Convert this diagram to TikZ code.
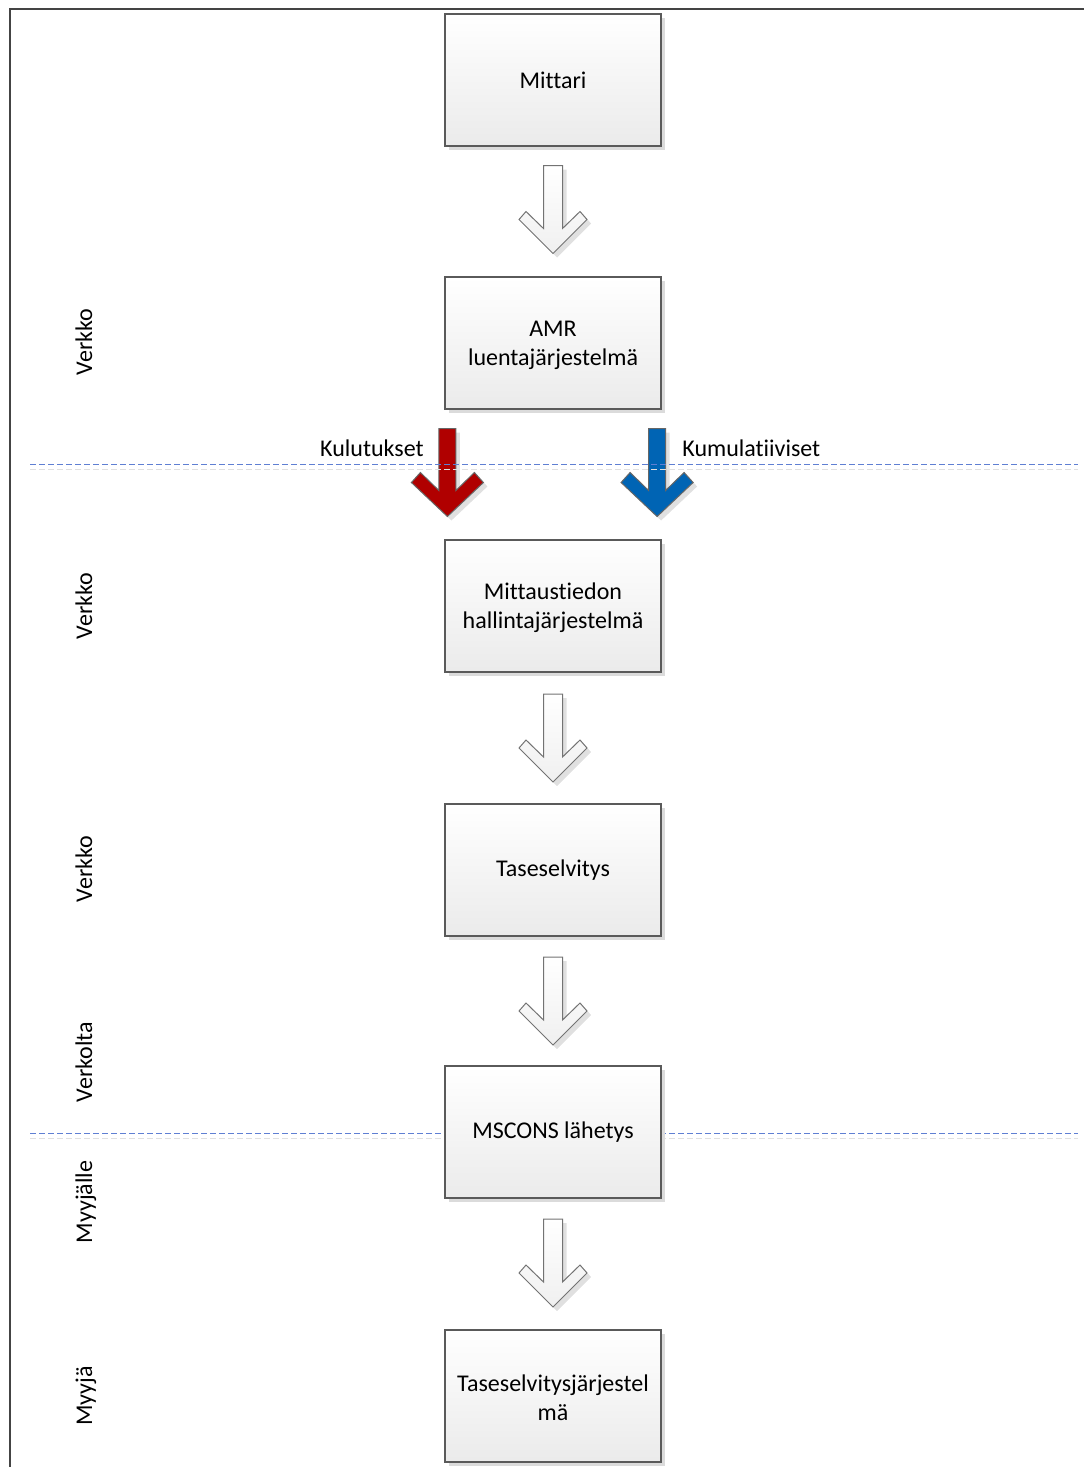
\documentclass[tikz,border=0pt]{standalone}
\usepackage{fontspec}
\setmainfont[Ligatures={NoCommon}]{Carlito}
\usetikzlibrary{calc,shadows}

\definecolor{framegray}{HTML}{444444}
\definecolor{boxline}{HTML}{5A5A5A}
\definecolor{sepblue}{HTML}{5F7FD3}
\definecolor{flowred}{HTML}{B00000}
\definecolor{flowblue}{HTML}{0064B4}

\tikzset{
  every node/.style={font=\fontsize{12}{14.7}\selectfont, text=black},
  box/.style={draw=boxline, line width=0.6pt, minimum width=108pt,
    minimum height=66pt, inner sep=0pt, align=center,
    top color=white, bottom color=black!8,
    drop shadow={shadow xshift=2pt, shadow yshift=-2pt, fill=black!14, opacity=1}},
  lane/.style={rotate=90, anchor=base, inner sep=0pt},
  flowlabel/.style={inner sep=0pt},
  separator/.style={draw=sepblue, line width=0.5pt, dash pattern=on 3pt off 1.5pt},
  separatorshade/.style={draw=black!12, line width=0.5pt, dash pattern=on 3pt off 1.5pt},
  pics/hollowarrow/.style={code={
    \fill[black!12, shift={(4,4)}] (-9.5,-44) -- (9.5,-44) -- (9.5,19) -- (27,2) -- (34,10)
      -- (0,44) -- (-34,10) -- (-27,2) -- (-9.5,19) -- cycle;
    \path[draw=black!55, line width=0.5pt, top color=white, bottom color=black!6]
      (-9.5,-44) -- (9.5,-44) -- (9.5,19) -- (27,2) -- (34,10)
      -- (0,44) -- (-34,10) -- (-27,2) -- (-9.5,19) -- cycle;
  }},
  pics/solidarrow/.style={code={
    \fill[black!12, shift={(4,4)}] (-8.5,-44) -- (8.5,-44) -- (8.5,18) -- (27,0) -- (36,10)
      -- (0,44) -- (-36,10) -- (-27,0) -- (-8.5,18) -- cycle;
    \path[draw=black!60, line width=0.5pt, fill=#1]
      (-8.5,-44) -- (8.5,-44) -- (8.5,18) -- (27,0) -- (36,10)
      -- (0,44) -- (-36,10) -- (-27,0) -- (-8.5,18) -- cycle;
  }}
}

\begin{document}
\begin{tikzpicture}[x=0.5pt, y=-0.5pt]
  \useasboundingbox (0,0) rectangle (1084,1467);

  % outer frame (left and top edges)
  \draw[framegray, line width=1pt] (10,1467) -- (10,9) -- (1084,9);

  % lower lane separator, passes behind the MSCONS box
  \draw[separatorshade] (30,1138) -- (1078,1138);
  \draw[separator] (30,1133) -- (1078,1133);

  % process boxes
  \node[box] (m1) at (553,80)   {Mittari};
  \node[box] (m2) at (553,343)  {\strut AMR\\luentajärjestelmä};
  \node[box] (m3) at (553,606)  {\strut Mittaustiedon\\hallintajärjestelmä};
  \node[box] (m4) at (553,870)  {Taseselvitys};
  \node[box] (m5) at (553,1132) {MSCONS lähetys};
  \node[box] (m6) at (553,1396) {\strut Taseselvitysjärjestel\\mä};

  % flow arrows between boxes
  \pic at ($(m1.south)!0.5!(m2.north)+(0,-2)$) {hollowarrow};
  \pic at ($(m3.south)!0.5!(m4.north)$) {hollowarrow};
  \pic at ($(m4.south)!0.5!(m5.north)$) {hollowarrow};
  \pic at ($(m5.south)!0.5!(m6.north)+(0,-1)$) {hollowarrow};

  % consumption and cumulative readings
  \pic at ($(m2.south west)!0.5!(m3.north west)+(3,-2)$) {solidarrow=flowred};
  \pic at ($(m2.south east)!0.5!(m3.north east)+(-4.5,-2)$) {solidarrow=flowblue};
  \node[flowlabel, anchor=east] (kul) at (424,448) {Kulutukset};
  \node[flowlabel, anchor=west] (kum) at (682,448) {Kumulatiiviset};

  % upper lane separator, drawn over the arrows
  \draw[separatorshade] (30,469) -- (1078,469);
  \draw[separator] (30,464) -- (1078,464);

  % lane labels
  \node[lane] (v1) at (92,342)  {Verkko};
  \node[lane] (v2) at (92,606)  {Verkko};
  \node[lane] (v3) at (92,869)  {Verkko};
  \node[lane] (v4) at (92,1062) {Verkolta};
  \node[lane] (v5) at (92,1202) {Myyjälle};
  \node[lane] (v6) at (92,1396) {Myyjä};
\end{tikzpicture}
\end{document}
